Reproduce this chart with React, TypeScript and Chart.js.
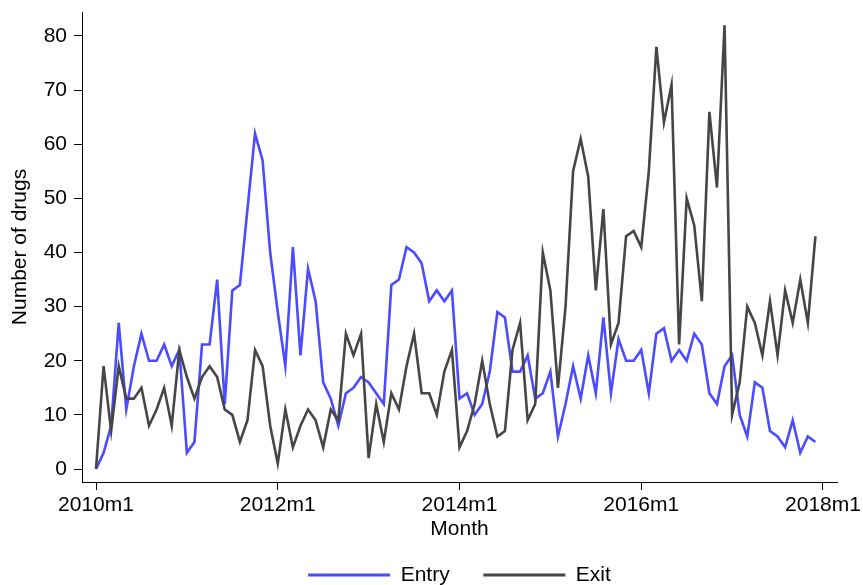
import { useEffect, useRef } from "react";
import { Chart, registerables } from "chart.js";

Chart.register(...registerables);

// Categories: months 2010m1 .. 2017m12
const years = [2010, 2011, 2012, 2013, 2014, 2015, 2016, 2017];
const monthNums = [1, 2, 3, 4, 5, 6, 7, 8, 9, 10, 11, 12];
const months = years.flatMap((y) => monthNums.map((m) => `${y}m${m}`));

// Series values (number of drugs per month)
const entry = [
  0, 3, 8, 27, 11, 19, 25, 20, 20, 23,
  19, 22, 3, 5, 23, 23, 35, 12, 33, 34,
  48, 62, 57, 40, 29, 19, 41, 21, 37, 31,
  16, 13, 8, 14, 15, 17, 16, 14, 12, 34,
  35, 41, 40, 38, 31, 33, 31, 33, 13, 14,
  10, 12, 18, 29, 28, 18, 18, 21, 13, 14,
  18, 6, 12, 19, 13, 21, 14, 28, 14, 24,
  20, 20, 22, 14, 25, 26, 20, 22, 20, 25,
  23, 14, 12, 19, 21, 10, 6, 16, 15, 7,
  6, 4, 9, 3, 6, 5,
];

const exit = [
  0, 19, 7, 19, 13, 13, 15, 8, 11, 15,
  8, 22, 17, 13, 17, 19, 17, 11, 10, 5,
  9, 22, 19, 8, 1, 11, 4, 8, 11, 9,
  4, 11, 9, 25, 21, 25, 2, 12, 5, 14,
  11, 19, 25, 14, 14, 10, 18, 22, 4, 7,
  12, 20, 12, 6, 7, 22, 27, 9, 12, 40,
  33, 15, 30, 55, 61, 54, 33, 48, 23, 27,
  43, 44, 41, 55, 78, 64, 71, 23, 50, 45,
  31, 66, 52, 82, 10, 16, 30, 27, 21, 31,
  21, 33, 27, 35, 27, 43,
];

// Tick labels
const xTickValues = [0, 24, 48, 72, 96];
const xTickLabels = ["2010m1", "2012m1", "2014m1", "2016m1", "2018m1"];
const yTickValues = [0, 10, 20, 30, 40, 50, 60, 70, 80];

const BLUE = "#4B4BFF";
const GRAY = "#464646";
const FONT = { family: "'Liberation Sans', Arial, Helvetica, sans-serif", size: 21 };

export default function App() {
  const ref = useRef<HTMLCanvasElement>(null);

  useEffect(() => {
    document.body.style.margin = "0";
    const canvas = ref.current;
    if (!canvas) return;
    const toPoints = (arr: number[]) => arr.map((v, i) => ({ x: months.indexOf(months[i]), y: v }));
    const chart = new Chart(canvas, {
      type: "line",
      data: {
        datasets: [
          {
            label: "Entry",
            data: toPoints(entry),
            borderColor: BLUE,
            backgroundColor: BLUE,
            borderWidth: 2.6,
            pointRadius: 0,
            tension: 0,
            order: 1,
          },
          {
            label: "Exit",
            data: toPoints(exit),
            borderColor: GRAY,
            backgroundColor: GRAY,
            borderWidth: 2.6,
            pointRadius: 0,
            tension: 0,
            order: 0,
          },
        ],
      },
      options: {
        responsive: false,
        animation: false,
        layout: { padding: { top: 12, left: 0, right: 26, bottom: -10.5 } },
        plugins: {
          tooltip: { enabled: false },
          legend: {
            position: "bottom",
            align: "center",
            fullSize: false,
            labels: {
              font: FONT,
              color: "#000",
              boxWidth: 82,
              boxHeight: 3,
              padding: 22,
              generateLabels: () => [
                { text: "Entry  ", fillStyle: BLUE, strokeStyle: BLUE, lineWidth: 0, hidden: false, datasetIndex: 0 },
                { text: "Exit", fillStyle: GRAY, strokeStyle: GRAY, lineWidth: 0, hidden: false, datasetIndex: 1 },
              ],
            },
          },
        },
        scales: {
          x: {
            type: "linear",
            min: -1.85,
            max: 97.85,
            afterBuildTicks: (s: any) => {
              s.ticks = xTickValues.map((v) => ({ value: v }));
            },
            afterFit: (s: any) => {
              s.height = 60.5;
              s.paddingLeft = 0;
              s.paddingRight = 0;
            },
            ticks: {
              autoSkip: false,
              maxRotation: 0,
              minRotation: 0,
              padding: 3,
              color: "#000",
              font: FONT,
              callback: (_v: any, i: number) => xTickLabels[i],
            },
            grid: {
              display: true,
              drawOnChartArea: false,
              drawTicks: true,
              tickLength: 8,
              color: "#000",
              tickColor: "#000",
              lineWidth: 1,
            },
            border: { display: true, color: "#000", width: 1 },
            title: {
              display: true,
              text: "Month",
              color: "#000",
              font: FONT,
              padding: { top: 0, bottom: 1 },
            },
          },
          y: {
            type: "linear",
            min: -2.4,
            max: 84.43,
            afterBuildTicks: (s: any) => {
              s.ticks = yTickValues.map((v) => ({ value: v }));
            },
            afterFit: (s: any) => {
              s.width = 82;
              s.paddingTop = 0;
              s.paddingBottom = 0;
            },
            ticks: {
              padding: 7,
              color: "#000",
              font: FONT,
              callback: (v: any) => String(v),
            },
            grid: {
              display: true,
              drawOnChartArea: false,
              drawTicks: true,
              tickLength: 8,
              color: "#000",
              tickColor: "#000",
              lineWidth: 1,
            },
            border: { display: true, color: "#000", width: 1 },
            title: {
              display: true,
              text: "Number of drugs",
              color: "#000",
              font: FONT,
              padding: { top: 8, bottom: 0 },
            },
          },
        },
      },
    });
    return () => chart.destroy();
  }, []);

  return <canvas ref={ref} width={863} height={585} style={{ display: "block" }} />;
}
